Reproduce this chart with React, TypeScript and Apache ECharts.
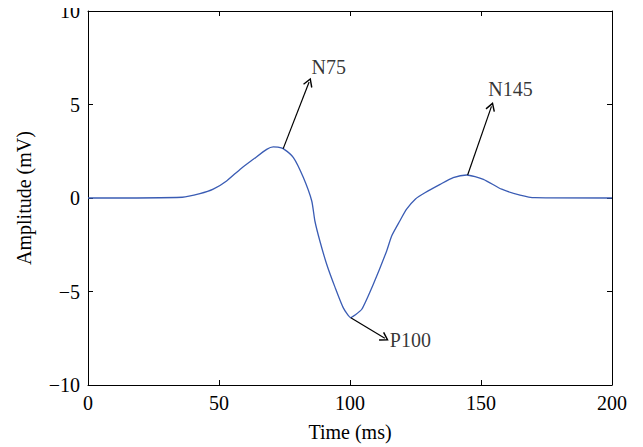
import React, { useEffect, useRef } from "react";
import * as echarts from "echarts";

const timeMs = [0, 36, 42.7, 47.8, 52.9, 58, 63.1, 68.2, 70.7, 72.5, 74.5, 78.4, 82.2, 85.4, 86.6, 88.5, 91.1, 94.3, 97.4, 100.3, 101.9, 104.5, 108.9, 114, 115.9, 119, 121.6, 125, 128.6, 134.4, 139.4, 144.5, 150.9, 157.9, 164.9, 170.6, 200];
const amplitude = [0, 0.04, 0.23, 0.47, 0.91, 1.53, 2.07, 2.6, 2.73, 2.72, 2.64, 2.16, 1.09, -0.16, -1.23, -2.3, -3.54, -4.78, -5.86, -6.4, -6.26, -5.95, -4.61, -2.83, -2.03, -1.23, -0.6, -0.05, 0.28, 0.73, 1.09, 1.23, 1.0, 0.47, 0.16, 0.02, 0];

const peakNames = ["N75", "P100", "N145"];
const arrowFrom = [[74.5, 2.64], [100.3, -6.4], [144.9, 1.23]];
const arrowTo = [[84.4, 6.2], [113.3, -7.5], [154.0, 4.9]];
const labelPos = [[85.1, 7.0], [115.0, -7.6], [152.6, 5.85]];

const FONT = "Liberation Serif";
const FS = 20;

export default function App() {
  const ref = useRef<HTMLDivElement>(null);
  useEffect(() => {
    if (!ref.current) return;
    const chart = echarts.init(ref.current, undefined, { renderer: "svg" });
    const minus = (v: number) => String(v).replace("-", "\u2212");
    const axisCommon = {
      type: "value" as const,
      axisLine: { show: true, onZero: false, lineStyle: { color: "#000", width: 1 } },
      axisTick: { show: true, inside: true, length: 5, lineStyle: { color: "#000" } },
      splitLine: { show: false },
    };
    chart.setOption({
      animation: false,
      backgroundColor: "#fff",
      grid: { left: 88, top: 11, right: 31, bottom: 62 },
      xAxis: [
        {
          ...axisCommon,
          min: 0,
          max: 200,
          interval: 50,
          position: "bottom",
          name: "Time (ms)",
          nameLocation: "middle",
          nameGap: 37,
          nameTextStyle: { fontFamily: FONT, fontSize: FS, color: "#000" },
          axisLabel: { fontFamily: FONT, fontSize: FS, color: "#000", margin: 8, formatter: minus },
        },
        {
          ...axisCommon,
          min: 0,
          max: 200,
          interval: 50,
          position: "top",
          axisLabel: { show: false },
        },
      ],
      yAxis: [
        {
          ...axisCommon,
          min: -10,
          max: 10,
          interval: 5,
          position: "left",
          name: "Amplitude (mV)",
          nameLocation: "middle",
          nameGap: 54,
          nameTextStyle: { fontFamily: FONT, fontSize: FS, color: "#000" },
          axisLabel: { fontFamily: FONT, fontSize: FS, color: "#000", margin: 8, formatter: minus },
        },
        {
          ...axisCommon,
          min: -10,
          max: 10,
          interval: 5,
          position: "right",
          axisLabel: { show: false },
        },
      ],
      series: [
        {
          type: "line",
          xAxisIndex: 0,
          yAxisIndex: 0,
          data: timeMs.map((t, i) => [t, amplitude[i]]),
          showSymbol: false,
          symbol: "none",
          smooth: 0.2,
          lineStyle: { color: "#3a5cb4", width: 1.3 },
          silent: true,
          markLine: {
            silent: true,
            symbol: ["none", "path://M5,0 L10,8 L8.8,8.8 L5,2.6 L1.2,8.8 L0,8 Z"],
            symbolSize: [10, 9],
            lineStyle: { color: "#000", width: 1.2, type: "solid" },
            label: { show: false },
            emphasis: { disabled: true },
            data: arrowFrom.map((f, i) => [
              { coord: f },
              { coord: arrowTo[i] },
            ]),
          },
        },
        {
          type: "scatter",
          xAxisIndex: 0,
          yAxisIndex: 0,
          symbolSize: 1,
          itemStyle: { color: "rgba(0,0,0,0)" },
          silent: true,
          label: {
            show: true,
            position: "right",
            distance: 0,
            formatter: "{b}",
            fontFamily: FONT,
            fontSize: FS,
            color: "#000",
          },
          data: labelPos.map((p, i) => ({ name: peakNames[i], value: p })),
        },
      ],
    });
    return () => chart.dispose();
  }, []);
  return <div ref={ref} style={{ width: 643, height: 447, marginLeft: -8, marginTop: -8 }} />;
}
